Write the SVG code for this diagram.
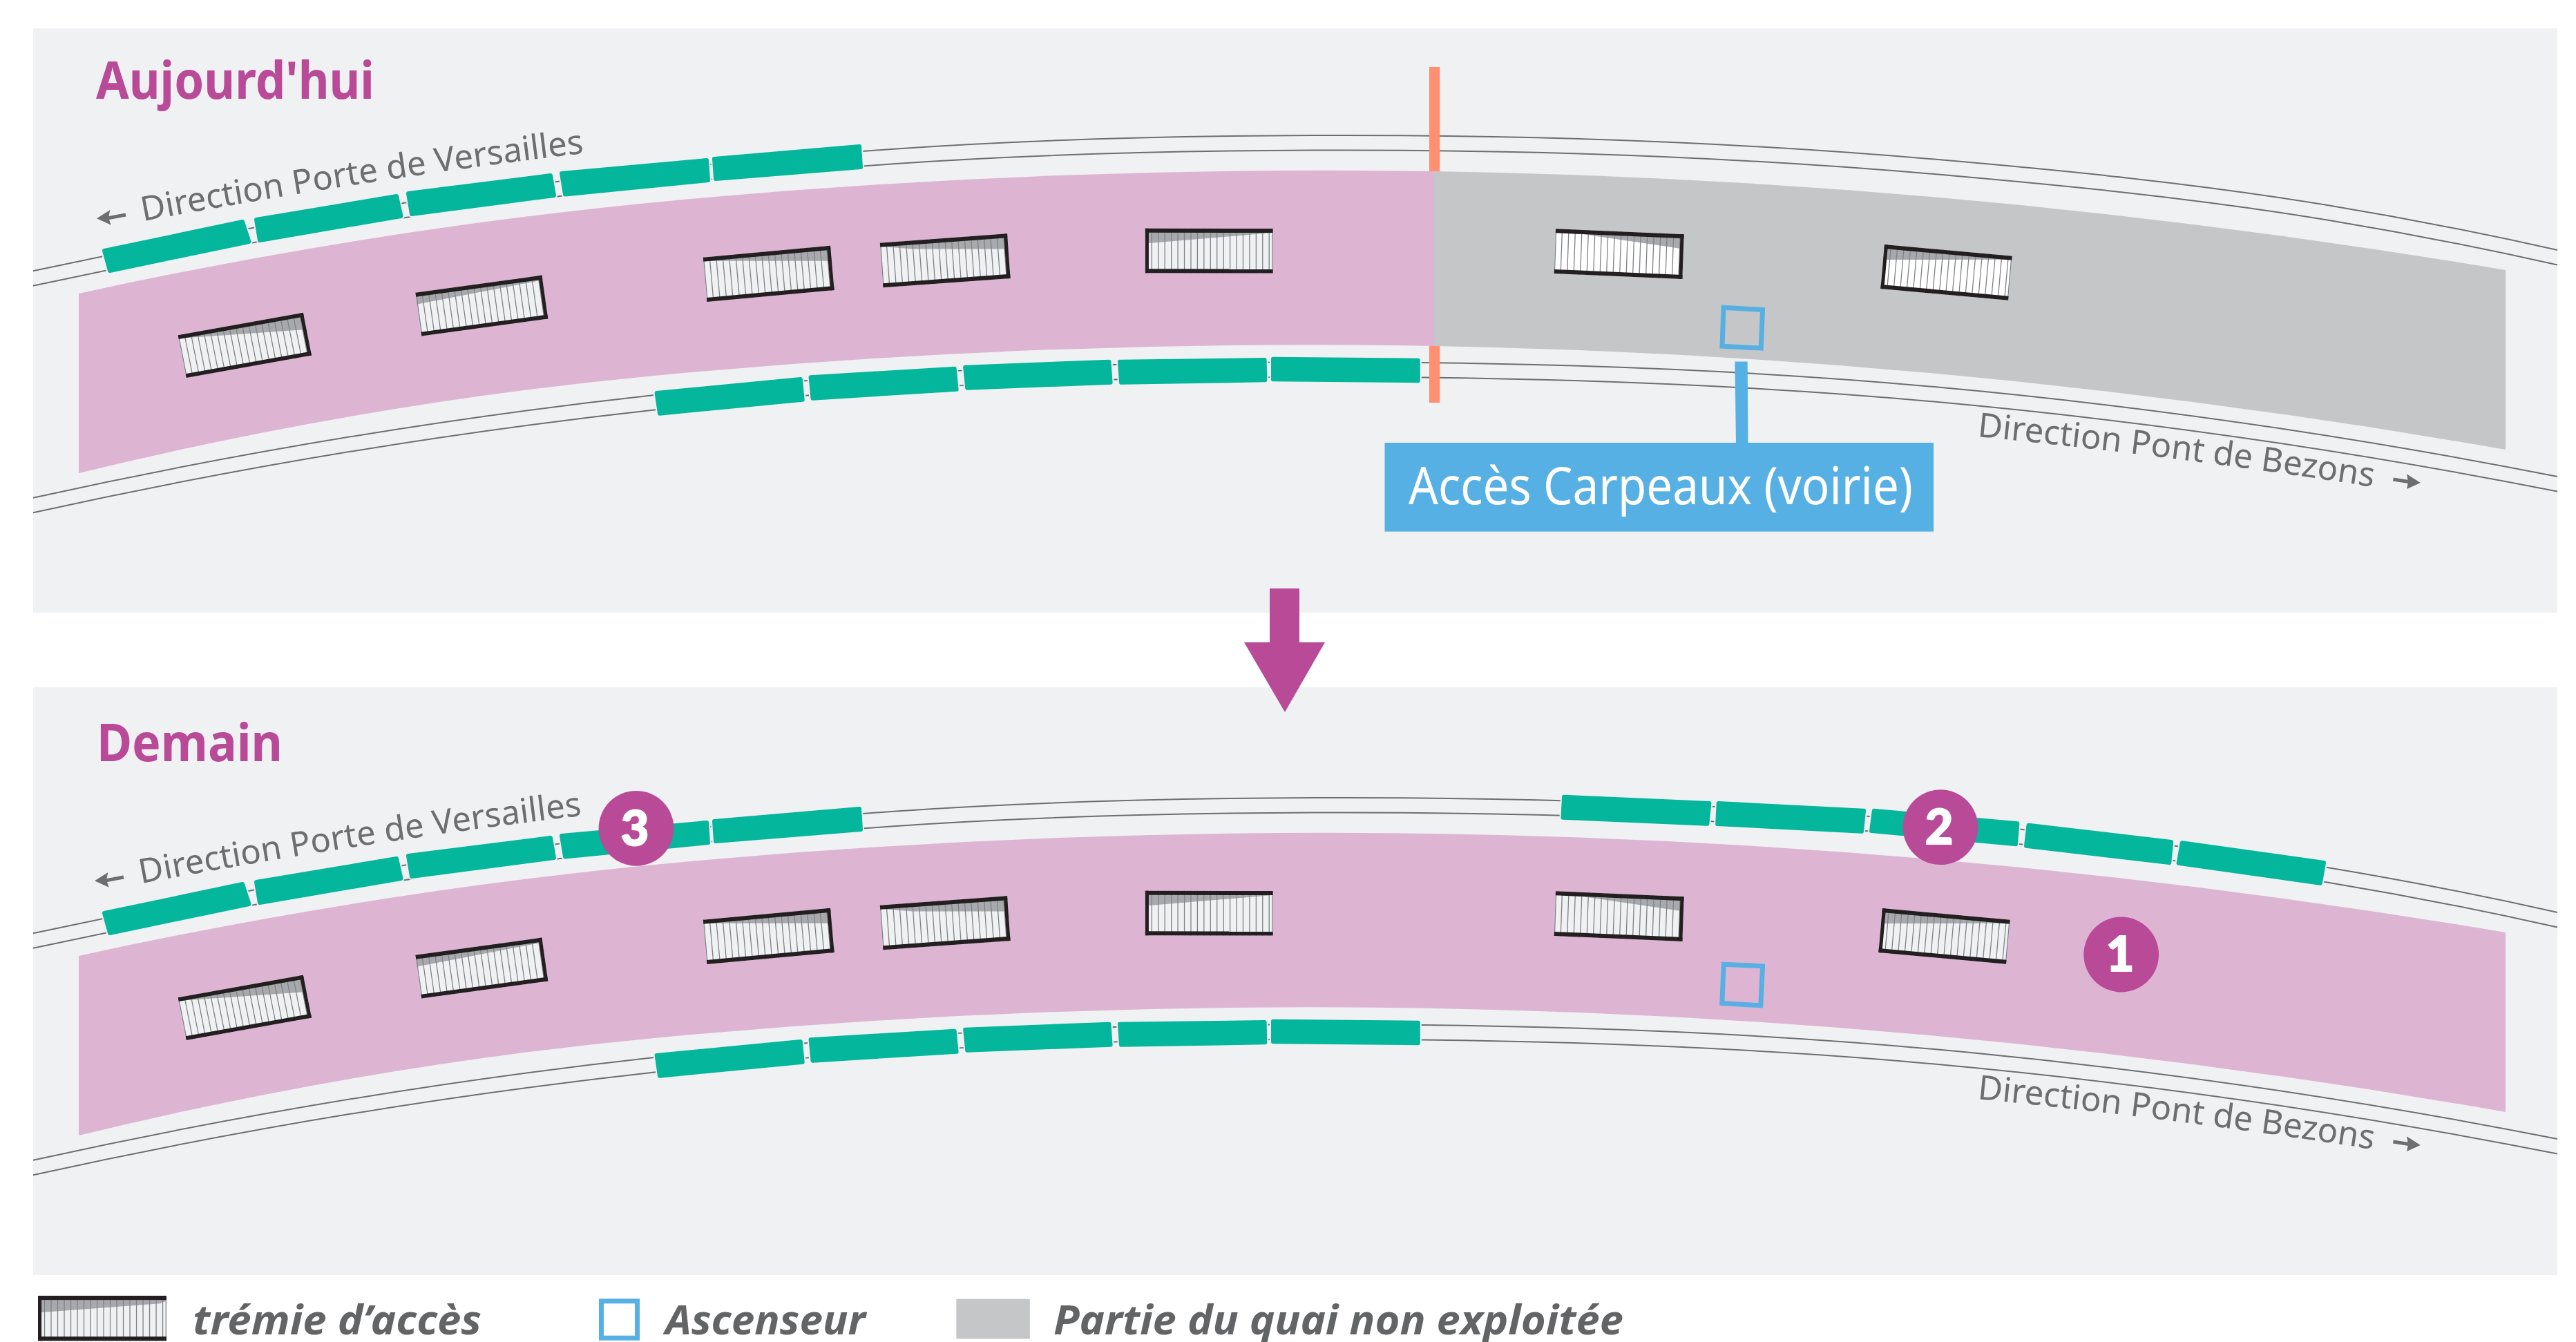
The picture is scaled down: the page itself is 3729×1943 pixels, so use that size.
<svg xmlns="http://www.w3.org/2000/svg" xmlns:xlink="http://www.w3.org/1999/xlink" width="3729" height="1943" viewBox="0 0 3729 1943">
<style>
.panel{fill:#f0f1f3}
.rail{fill:none;stroke:#6d6e71;stroke-width:2}
.pink{fill:#deb4d3}
.gray{fill:#c5c6c8}
.halo{fill:#f0f1f3;stroke:#f0f1f3;stroke-width:10;stroke-linejoin:round}
.car{fill:#04b69b;stroke:#04b69b;stroke-width:6;stroke-linejoin:round}
.title{font-family:"Noto Sans","Open Sans",sans-serif;font-weight:700;font-size:76px;fill:#b94a98}
.dir{font-family:"Noto Sans","Open Sans",sans-serif;font-size:49px;fill:#6d6e71}
.badge{fill:#b94a98}
.num{font-family:"Lato","Noto Sans",sans-serif;font-weight:900;font-size:70px;fill:#fff;text-anchor:middle;stroke:#fff;stroke-width:2}
.lift{fill:none;stroke:#57b0e3;stroke-width:7}
.leg{font-family:"Noto Sans","Open Sans",sans-serif;font-style:italic;font-weight:700;font-size:60px;fill:#636466}
.ar{fill:#6d6e71}
.arl{stroke:#6d6e71;stroke-width:5;fill:none}
.shade{fill:#a7a9ac}
.steps{fill:none;stroke:#808285;stroke-width:1.3}
.bar{fill:#231f20}
</style>
<defs>
<path id="railUp" class="rail" d="M48 392.3C462 303.2 876 244.4 1290 216C1493.3 202 1696.7 196.8 1900 196C2200 194.8 2500 204.7 2800 230.6C2989.7 247 3179.3 265.5 3369 297C3480 315.4 3591 337.1 3702 362"/>
<path id="railLow" class="rail" d="M48 720.7C347.7 654.6 646.3 605 947 572C1317.3 531.2 1687.7 520.8 2058 525C2305.3 527.8 2552.7 537.5 2800 560C3100.7 587.3 3401.3 630.7 3702 690"/>
<g id="rails">
<use href="#railUp"/><use href="#railUp" y="21.5"/>
<use href="#railLow"/><use href="#railLow" y="21.5"/>
</g>
<g id="carsL">
<polygon points="151,363 351,321 360.5,350 159,392"/>
<polygon points="371,318 574,284 580.5,313 376,348"/>
<polygon points="591,280 797,254 802,283 596,310"/>
<polygon points="813,251 1023,232 1025,261 818,281.5"/>
<polygon points="1034,230 1244,212 1246,242 1036,259"/>
</g>
<g id="carsB">
<polygon points="950.6,569 1158.8,549 1161.7,578.7 955,598.7"/>
<polygon points="1173.6,546.3 1381.7,533.7 1384.6,563.7 1176.5,576.7"/>
<polygon points="1397.2,531.7 1605.4,523.7 1607.6,553.7 1400.2,561.7"/>
<polygon points="1621,523.7 1830.6,521 1831.3,550.3 1623,553.7"/>
<polygon points="1843,519.7 2052.8,521.7 2052.8,551.3 1843,549.3"/>
</g>
<g id="carsR">
<polygon points="2264,1153.7 2474.4,1163 2471.4,1192.7 2262.5,1183.7"/>
<polygon points="2487.7,1163 2698,1173.7 2695,1203.7 2486.2,1193"/>
<polygon points="2712.8,1173.7 2920.3,1192.3 2918,1222.3 2709,1203"/>
<polygon points="2936.5,1194.7 3143.2,1219 3140.3,1249 2933,1224.7"/>
<polygon points="3158.8,1220.3 3364,1249 3358.8,1278.7 3153.6,1249.7"/>
</g>
<path id="stepLines" class="steps" d="M9.4 0V64M18.8 0V64M28.2 0V64M37.6 0V64M47 0V64M56.4 0V64M65.8 0V64M75.2 0V64M84.6 0V64M94 0V64M103.4 0V64M112.8 0V64M122.2 0V64M131.6 0V64M141 0V64M150.4 0V64M159.8 0V64M169.2 0V64M178.6 0V64"/>
<g id="frameR"><use href="#stepLines"/><path class="steps" d="M.7 0V64"/><rect class="bar" width="184" height="6"/><rect class="bar" y="58" width="184" height="6"/><rect class="bar" x="179" width="5" height="64"/></g>
<g id="frameL"><use href="#stepLines"/><path class="steps" d="M183.3 0V64"/><rect class="bar" width="184" height="6"/><rect class="bar" y="58" width="184" height="6"/><rect class="bar" width="5" height="64"/></g>
<g id="h1" transform="matrix(.985 -.1766 .1906 .964 257.6 485.3)"><rect width="184" height="64"/><polygon class="shade" points="0,5 184,5 184,25"/><use href="#frameR"/></g>
<g id="h2" transform="matrix(.9946 -.137 .139 .981 601.4 423.8)"><rect width="184" height="64"/><polygon class="shade" points="0,5 184,5 184,7 0,17"/><use href="#frameR"/></g>
<g id="h3" transform="matrix(1.001 -.0924 .089 1.005 1017.8 372.7)"><rect width="184" height="64"/><polygon class="shade" points="0,5 184,5 184,22"/><use href="#frameR"/></g>
<g id="h4" transform="matrix(1.001 -.0728 .072 1.009 1273.8 351.7)"><rect width="184" height="64"/><polygon class="shade" points="0,5 184,5 184,22 46,12"/><use href="#frameR"/></g>
<g id="h5" transform="matrix(1.004 .0016 0 1.009 1657.9 330.7)"><rect width="184" height="64"/><polygon class="shade" points="0,5 184,5 184,6 0,21.5"/><use href="#frameL"/></g>
<g id="h6" transform="matrix(1.009 .0435 -.036 1.011 2252 331.3)"><rect width="184" height="64"/><polygon class="shade" points="30,5 184,5 184,21"/><use href="#frameR"/></g>
<g id="h7" transform="matrix(1.004 .0908 -.089 1 2728 354)"><rect width="184" height="64"/><polygon class="shade" points="0,5 184,5 184,5 0,22"/><use href="#frameL"/></g>
<path id="dirL1" d="M207 320.4Q538.5 257.7 870 218.8"/>
<path id="dirL2" d="M204 1279.4Q535.5 1216.7 867 1177.8"/>
<path id="dirR1" d="M2862 632Q3161 661.5 3460 708.9"/>
<path id="dirR2" d="M2862 1591Q3161 1620.5 3460 1667.9"/>
</defs>

<rect width="3729" height="1943" fill="#fff"/>
<rect id="panel-aujourdhui" class="panel" x="48" y="41" width="3654" height="846"/>
<rect id="panel-demain" class="panel" x="48" y="995" width="3654" height="851"/>

<g id="today">
<use href="#rails"/>
<rect id="limit" x="2069" y="97" width="15.3" height="486" fill="#ff8f71"/>
<path id="quai-exploite" class="pink" d="M114 425Q557 328 1000 288Q1538 239.5 2076 248V501Q1511.5 490.8 947 544Q530.5 583.3 114 685Z"/>
<path id="quai-non-exploite" class="gray" d="M2076 248Q2851.5 260.3 3627 391V651Q2851.5 515 2076 501Z"/>
<use href="#carsL" class="halo"/><use href="#carsL" class="car"/>
<use href="#carsB" class="halo"/><use href="#carsB" class="car"/>
<use href="#h1" fill="#f0f1f3"/><use href="#h2" fill="#f0f1f3"/><use href="#h3" fill="#f0f1f3"/><use href="#h4" fill="#f0f1f3"/><use href="#h5" fill="#f0f1f3"/>
<use href="#h6" fill="#fff"/><use href="#h7" fill="#fff"/>
<polygon id="lift-today" class="lift" points="2495,445.3 2551.5,448.5 2549.2,504 2493,501.2"/>
<polygon id="acces-link" points="2511.4,523.5 2529.7,523.5 2530.5,642 2513,642" fill="#57b0e3"/>
<g id="acces-carpeaux">
<rect x="2004.5" y="641" width="794.5" height="128.6" fill="#57b0e3"/>
<text x="2039" y="729.7" font-family="'Noto Sans','Open Sans',sans-serif" font-size="74" fill="#fff" textLength="730" lengthAdjust="spacingAndGlyphs">Accès Carpeaux (voirie)</text>
</g>
<text class="title" x="139" y="143" textLength="403" lengthAdjust="spacingAndGlyphs">Aujourd'hui</text>
<text class="dir"><textPath href="#dirL1">Direction Porte de Versailles</textPath></text>
<text class="dir"><textPath href="#dirR1">Direction Pont de Bezons</textPath></text>
<path class="arl" d="M182 311L155 316"/><polygon class="ar" points="140,316.2 159.4,304 157,315 160.7,325.7"/>
<path class="arl" d="M3464.4 694L3490 698"/><polygon class="ar" points="3503.8,699 3484,686.3 3486,698 3484,708"/>
</g>

<g id="tomorrow">
<g transform="translate(0,959)">
<use href="#rails"/>
<path id="quai-demain" class="pink" d="M114 425Q557 328 1000 288Q1538 239.5 2076 248Q2851.5 260.3 3627 391V651Q2851.5 515 2076 501Q1511.5 490.8 947 544Q530.5 583.3 114 685Z"/>
<use href="#carsL" class="halo"/><use href="#carsL" class="car"/>
<use href="#carsB" class="halo"/><use href="#carsB" class="car"/>
<use href="#h1" fill="#f0f1f3"/><use href="#h2" fill="#f0f1f3"/><use href="#h3" fill="#f0f1f3"/><use href="#h4" fill="#f0f1f3"/><use href="#h5" fill="#f0f1f3"/>
<use href="#h6" fill="#f0f1f3"/><use href="#h7" x="-3" y="2" fill="#f0f1f3"/>
</g>
<polygon id="lift-demain" class="lift" points="2495.2,1396.2 2551.5,1398.8 2548.8,1455.8 2492.8,1452.5"/>
<use href="#carsR" class="halo"/><use href="#carsR" class="car"/>
<text class="title" x="140" y="1102" textLength="269" lengthAdjust="spacingAndGlyphs">Demain</text>
<text class="dir"><textPath href="#dirL2">Direction Porte de Versailles</textPath></text>
<text class="dir"><textPath href="#dirR2">Direction Pont de Bezons</textPath></text>
<path class="arl" d="M179 1270L152 1275"/><polygon class="ar" points="137,1275.2 156.4,1263 154,1274 157.7,1284.7"/>
<path class="arl" d="M3464.4 1653L3490 1657"/><polygon class="ar" points="3503.8,1658 3484,1645.3 3486,1657 3484,1667"/>
<g id="badge-3"><circle class="badge" cx="921" cy="1199.3" r="54.4"/><text class="num" x="919" y="1224">3</text></g>
<g id="badge-2"><circle class="badge" cx="2809" cy="1197.7" r="54.4"/><text class="num" x="2807" y="1222">2</text></g>
<g id="badge-1"><circle class="badge" cx="3070.7" cy="1382" r="54.4"/><text class="num" x="3069" y="1406">1</text></g>
</g>

<polygon id="transition" points="1838,852 1881,852 1881,930 1918,930 1860,1031 1801,930 1838,930" fill="#b94a98"/>

<g id="legend">
<g id="leg-tremie">
<g transform="translate(55,1876) scale(1.011,1.02)"><rect width="184" height="64" fill="#f0f1f3"/><polygon class="shade" points="0,5 184,5 184,7 175,11 0,24"/><use href="#frameL"/></g>
<text class="leg" x="279" y="1931.7" textLength="418" lengthAdjust="spacingAndGlyphs">trémie d’accès</text>
</g>
<g id="leg-ascenseur">
<rect class="lift" x="870.5" y="1883.8" width="52" height="53.4"/>
<text class="leg" x="963" y="1931.7" textLength="290" lengthAdjust="spacingAndGlyphs">Ascenseur</text>
</g>
<g id="leg-partie">
<rect class="gray" x="1384.4" y="1880.7" width="106.4" height="57.6"/>
<text class="leg" x="1525" y="1931.7" textLength="825" lengthAdjust="spacingAndGlyphs">Partie du quai non exploitée</text>
</g>
</g>
</svg>
